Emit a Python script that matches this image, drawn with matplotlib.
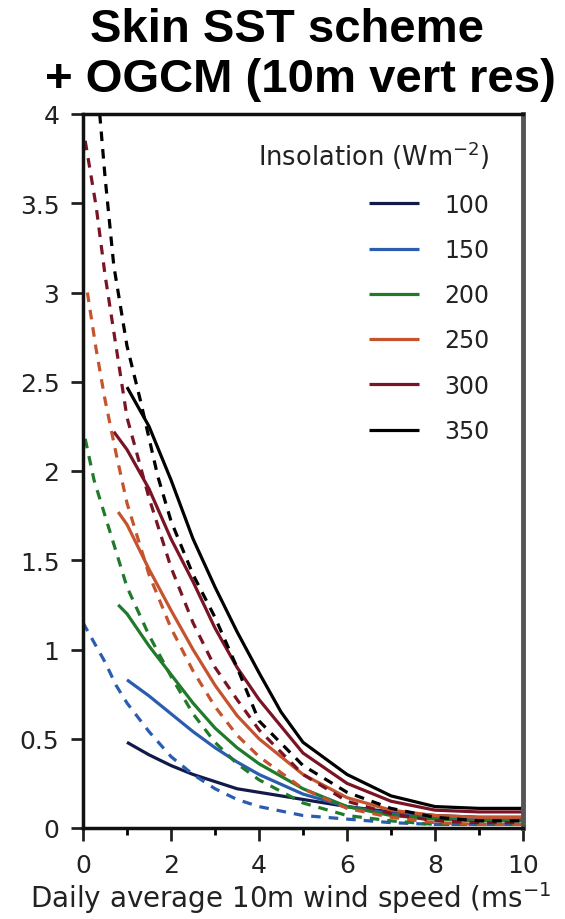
import matplotlib
matplotlib.use("Agg")
import matplotlib.pyplot as plt
from matplotlib.ticker import MultipleLocator

plt.rcParams['font.family'] = ['DejaVu Sans']
plt.rcParams['mathtext.default'] = 'regular'

insolation = ["100", "150", "200", "250", "300", "350"]
colors = ["#121a4a", "#2a5cb0", "#1f7a2a", "#c4532e", "#7a1424", "#000000"]

# solid curves (OGCM)
x_100 = [1, 1.5, 2, 2.5, 3, 3.5, 4, 5, 6, 7, 8, 9, 10]
y_100 = [0.48, 0.41, 0.35, 0.30, 0.26, 0.22, 0.20, 0.16, 0.12, 0.09, 0.07, 0.06, 0.06]
x_150 = [1, 1.5, 2, 2.5, 3, 3.5, 4, 5, 6, 7, 8, 9, 10]
y_150 = [0.83, 0.74, 0.64, 0.54, 0.45, 0.37, 0.30, 0.19, 0.12, 0.08, 0.06, 0.05, 0.05]
x_200 = [0.8, 1, 1.5, 2, 2.5, 3, 3.5, 4, 5, 6, 7, 8, 9, 10]
y_200 = [1.25, 1.20, 1.02, 0.86, 0.70, 0.56, 0.45, 0.36, 0.22, 0.12, 0.07, 0.05, 0.04, 0.04]
x_250 = [0.8, 1, 1.5, 2, 2.5, 3, 3.5, 4, 5, 6, 7, 8, 9, 10]
y_250 = [1.77, 1.70, 1.45, 1.22, 1.00, 0.80, 0.63, 0.50, 0.30, 0.17, 0.10, 0.07, 0.06, 0.06]
x_300 = [0.7, 1, 1.5, 2, 2.5, 3, 3.5, 4, 5, 6, 7, 8, 9, 10]
y_300 = [2.22, 2.12, 1.90, 1.62, 1.38, 1.12, 0.90, 0.72, 0.42, 0.25, 0.15, 0.10, 0.09, 0.09]
x_350 = [1, 1.5, 2, 2.5, 3, 3.5, 4, 4.5, 5, 6, 7, 8, 9, 10]
y_350 = [2.47, 2.25, 1.95, 1.62, 1.35, 1.10, 0.87, 0.65, 0.48, 0.30, 0.18, 0.12, 0.11, 0.11]

# dashed curves (skin SST scheme)
xd_150 = [0.0, 0.25, 0.5, 0.75, 1.0, 1.5, 2.0, 2.5, 3.0, 3.5, 4, 5, 6, 7, 8, 9, 10]
yd_150 = [1.15, 1.04, 0.93, 0.80, 0.70, 0.54, 0.40, 0.30, 0.22, 0.16, 0.12, 0.07, 0.05, 0.03, 0.02, 0.02, 0.02]
xd_200 = [0.05, 0.25, 0.5, 0.75, 1.0, 1.5, 2.0, 2.5, 3.0, 3.5, 4, 5, 6, 7, 8, 9, 10]
yd_200 = [2.18, 1.95, 1.75, 1.55, 1.35, 1.08, 0.85, 0.64, 0.48, 0.36, 0.27, 0.14, 0.07, 0.04, 0.02, 0.02, 0.02]
xd_250 = [0.1, 0.3, 0.5, 0.75, 1.0, 1.5, 2.0, 2.5, 3.0, 3.5, 4, 5, 6, 7, 8, 9, 10]
yd_250 = [3.0, 2.68, 2.40, 2.10, 1.82, 1.42, 1.12, 0.88, 0.68, 0.52, 0.40, 0.22, 0.11, 0.06, 0.03, 0.02, 0.02]
xd_300 = [0.05, 0.3, 0.5, 0.75, 1.0, 1.5, 2.0, 2.5, 3.0, 3.5, 4, 5, 6, 7, 8, 9, 10]
yd_300 = [3.85, 3.48, 3.10, 2.70, 2.30, 1.85, 1.46, 1.15, 0.90, 0.72, 0.55, 0.30, 0.15, 0.08, 0.04, 0.03, 0.03]
xd_350 = [0.38, 0.5, 0.7, 1.0, 1.3, 1.7, 2.0, 2.5, 3.0, 3.5, 4, 5, 6, 7, 8, 9, 10]
yd_350 = [4.0, 3.65, 3.15, 2.70, 2.40, 1.97, 1.72, 1.42, 1.18, 0.90, 0.60, 0.35, 0.20, 0.11, 0.06, 0.04, 0.04]

solid = [(x_100, y_100), (x_150, y_150), (x_200, y_200), (x_250, y_250), (x_300, y_300), (x_350, y_350)]
dashed = [None, (xd_150, yd_150), (xd_200, yd_200), (xd_250, yd_250), (xd_300, yd_300), (xd_350, yd_350)]

x_ticks = [0, 2, 4, 6, 8, 10]
y_ticks = [0, 0.5, 1, 1.5, 2, 2.5, 3, 3.5, 4]
y_ticklabels = ["0", "0.5", "1", "1.5", "2", "2.5", "3", "3.5", "4"]

fig = plt.figure(figsize=(5.65, 9.2), dpi=100)
ax = fig.add_axes([83/565, 1 - 829/920, 440/565, 714/920])

for (xs, ys), c, lab in zip(solid, colors, insolation):
    ax.plot(xs, ys, color=c, lw=2.3, label=lab, solid_capstyle='butt')
for d, c in zip(dashed, colors):
    if d is None:
        continue
    ax.plot(d[0], d[1], color=c, lw=2.3, ls=(0, (3, 2.5)))

ax.set_xlim(0, 10)
ax.set_ylim(0, 4)
ax.set_xticks(x_ticks)
ax.set_yticks(y_ticks)
ax.set_yticklabels(y_ticklabels)
ax.xaxis.set_minor_locator(MultipleLocator(1))
ax.tick_params(axis='y', which='major', direction='out', length=9, width=2,
               labelsize=18, colors='#222222', pad=8)
ax.tick_params(axis='x', which='major', direction='out', length=9, width=2,
               labelsize=18, colors='#222222', pad=9)
ax.tick_params(axis='x', which='minor', direction='out', length=5, width=2)
for side in ['left', 'bottom', 'top']:
    ax.spines[side].set_linewidth(2.5)
    ax.spines[side].set_color('#111111')
ax.spines['right'].set_linewidth(3.5)
ax.spines['right'].set_color('#555555')

leg = ax.legend(loc='upper right', bbox_to_anchor=((490 - 83) / 440, (829 - 140) / 714),
                frameon=False, borderaxespad=0, borderpad=0,
                title='Insolation (Wm$^{-2}$)', fontsize=17, title_fontsize=18.5,
                handlelength=2.1, handletextpad=1.1, labelspacing=0.9,
                alignment='right')
leg._legend_handle_box.sep = 14
for t in leg.get_texts() + [leg.get_title()]:
    t.set_color('#222222')

fig.text(287/565, 1 - 30/920, "Skin SST scheme", ha='center', va='center',
         fontsize=34, fontweight='bold', family='Liberation Sans')
fig.text(300/565, 1 - 80/920, "+ OGCM (10m vert res)", ha='center', va='center',
         fontsize=34, fontweight='bold', family='Liberation Sans')
fig.text(30/565, 1 - 898/920, "Daily average 10m wind speed (ms$^{-1}$", ha='left',
         va='center', fontsize=20, color='#222222')

fig.savefig("out.png", dpi=100)
